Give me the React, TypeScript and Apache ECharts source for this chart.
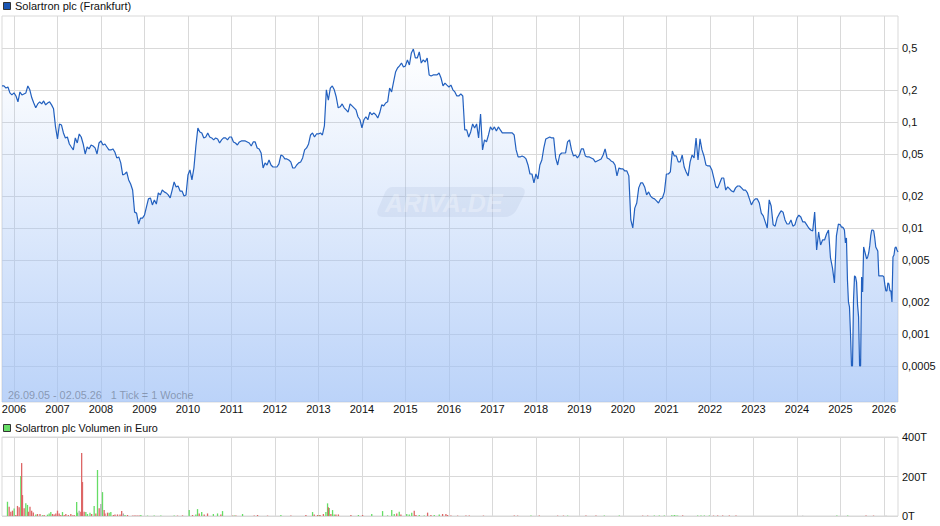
import { useEffect, useRef } from 'react'
import * as echarts from 'echarts'

// weekly closes, one list per calendar year
const p2005 = [0.219, 0.219, 0.209, 0.214, 0.188, 0.18]
const p2006 = [0.188, 0.176, 0.155, 0.192, 0.18, 0.184, 0.188, 0.219, 0.201, 0.169, 0.151, 0.136, 0.148, 0.155, 0.148, 0.158, 0.145, 0.151, 0.155, 0.145, 0.133, 0.09]
const p2007 = [0.0692, 0.0958, 0.0937, 0.0788, 0.0707, 0.0722, 0.062, 0.0581, 0.0545, 0.0707, 0.0634, 0.0771, 0.0722, 0.062, 0.0499, 0.0581, 0.0557, 0.0607, 0.0594, 0.0569, 0.0499, 0.0634]
const p2008 = [0.0662, 0.0607, 0.062, 0.0581, 0.0545, 0.0545, 0.0557, 0.0521, 0.0458, 0.0468, 0.0411, 0.0316, 0.0323, 0.0338, 0.0284, 0.026, 0.0228, 0.0141, 0.0138, 0.0109, 0.0124, 0.0124]
const p2009 = [0.0132, 0.0158, 0.0188, 0.0192, 0.0165, 0.0184, 0.0168, 0.0214, 0.0205, 0.0228, 0.0219, 0.0214, 0.0205, 0.0192, 0.0228, 0.0272, 0.0244, 0.0249, 0.0223, 0.0223, 0.02, 0.0205]
const p2010 = [0.0316, 0.0353, 0.0284, 0.0368, 0.0594, 0.0878, 0.0805, 0.0788, 0.0707, 0.0722, 0.0788, 0.0722, 0.0707, 0.0677, 0.0707, 0.0692, 0.0634, 0.0677, 0.0707, 0.0707, 0.0677, 0.0722]
const p2011 = [0.0722, 0.0648, 0.0634, 0.0607, 0.0648, 0.0662, 0.0662, 0.0662, 0.0648, 0.0634, 0.0594, 0.0648, 0.0648, 0.0569, 0.0557, 0.051, 0.0368, 0.0411, 0.0393, 0.0438, 0.0393, 0.0376]
const p2012 = [0.0376, 0.0376, 0.0402, 0.0488, 0.0478, 0.0448, 0.0448, 0.0438, 0.042, 0.0368, 0.0368, 0.0393, 0.0411, 0.042, 0.0458, 0.0545, 0.0569, 0.062, 0.0754, 0.0788, 0.0722, 0.0771]
const p2013 = [0.0771, 0.0788, 0.0754, 0.0917, 0.201, 0.161, 0.209, 0.219, 0.201, 0.172, 0.136, 0.139, 0.148, 0.136, 0.13, 0.124, 0.148, 0.142, 0.136, 0.13, 0.112, 0.105]
const p2014 = [0.0878, 0.105, 0.112, 0.105, 0.124, 0.117, 0.122, 0.117, 0.109, 0.122, 0.145, 0.142, 0.151, 0.155, 0.209, 0.192, 0.239, 0.296, 0.323, 0.338, 0.36, 0.33]
const p2015 = [0.338, 0.385, 0.345, 0.448, 0.488, 0.402, 0.402, 0.458, 0.36, 0.385, 0.368, 0.402, 0.278, 0.272, 0.278, 0.278, 0.278, 0.29, 0.26, 0.219, 0.233, 0.223]
const p2016 = [0.214, 0.223, 0.201, 0.192, 0.176, 0.176, 0.184, 0.176, 0.0841, 0.0841, 0.0722, 0.0805, 0.0958, 0.0878, 0.0958, 0.0707, 0.119, 0.0545, 0.0677, 0.0648, 0.0754, 0.0898]
const p2017 = [0.0841, 0.0898, 0.0823, 0.0898, 0.0841, 0.0788, 0.0788, 0.0788, 0.0788, 0.0788, 0.0788, 0.0754, 0.0545, 0.0468, 0.0468, 0.0478, 0.0468, 0.0448, 0.0393, 0.0323, 0.0323, 0.0266]
const p2018 = [0.0323, 0.029, 0.0393, 0.0438, 0.0569, 0.0692, 0.0707, 0.0722, 0.0707, 0.0707, 0.0458, 0.0393, 0.0488, 0.051, 0.051, 0.051, 0.0648, 0.0677, 0.0545, 0.0478, 0.0488, 0.0458]
const p2019 = [0.0488, 0.0557, 0.0557, 0.0478, 0.0468, 0.0468, 0.0458, 0.0448, 0.042, 0.0429, 0.0438, 0.0448, 0.0488, 0.0557, 0.0458, 0.0448, 0.0429, 0.042, 0.0393, 0.031, 0.0368, 0.0361]
const p2020 = [0.0361, 0.0345, 0.0345, 0.031, 0.0119, 0.01, 0.0154, 0.0172, 0.0239, 0.0266, 0.0266, 0.0244, 0.0205, 0.0219, 0.02, 0.0192, 0.0188, 0.018, 0.0172, 0.0188, 0.0192, 0.0219]
const p2021 = [0.0323, 0.0323, 0.0338, 0.0533, 0.0478, 0.0478, 0.042, 0.042, 0.0488, 0.0376, 0.0338, 0.031, 0.042, 0.0488, 0.0458, 0.0707, 0.0438, 0.0692, 0.0545, 0.0478, 0.0393, 0.0385]
const p2022 = [0.0385, 0.0353, 0.0296, 0.0244, 0.0239, 0.0266, 0.0296, 0.0296, 0.0228, 0.0244, 0.0234, 0.0223, 0.0219, 0.0239, 0.0249, 0.0249, 0.0239, 0.0228, 0.0228, 0.0214, 0.0188, 0.0165]
const p2023 = [0.018, 0.0188, 0.0188, 0.0172, 0.0138, 0.013, 0.0114, 0.01, 0.0184, 0.0161, 0.0107, 0.0104, 0.0124, 0.0135, 0.0145, 0.0141, 0.0119, 0.0109, 0.0109, 0.0119, 0.0104, 0.0107]
const p2024 = [0.0124, 0.0132, 0.0127, 0.0114, 0.0114, 0.0107, 0.01, 0.00957, 0.00937, 0.0141, 0.0062, 0.00917, 0.00691, 0.00771, 0.00771, 0.00878, 0.00957, 0.00521, 0.0042, 0.00303, 0.00841, 0.0109]
const p2025 = [0.0107, 0.0102, 0.0102, 0.01, 0.00957, 0.00722, 0.00805, 0.00323, 0.002, 0.0018, 0.00102, 0.0005, 0.0005, 0.00209, 0.00353, 0.00345, 0.00309, 0.00188, 0.00145, 0.0005, 0.0005, 0.00345, 0.00249, 0.00662, 0.00607, 0.00556, 0.0051, 0.00533, 0.00581, 0.00677, 0.00841, 0.00957, 0.00957, 0.00937, 0.00805, 0.00662, 0.00634, 0.00607, 0.00353, 0.00353, 0.00353, 0.00353, 0.00353]
const p2026 = [0.00345, 0.0029, 0.00255, 0.00255, 0.00303, 0.00296, 0.00255, 0.00255, 0.002, 0.00533, 0.00556, 0.00648, 0.00662, 0.0062, 0.00594]

// volume in thousand euro: [week number since 26.09.05, volume]
const volumeUp = [[6, 72], [14, 38], [22, 202], [28, 64], [30, 56], [40, 8], [48, 4], [54, 7], [56, 13], [58, 20], [72, 20], [89, 71], [90, 17], [100, 20], [102, 10], [105, 17], [110, 51], [114, 233], [120, 121], [128, 17], [130, 20], [147, 5], [166, 5], [174, 2], [182, 2], [190, 3], [206, 2], [224, 30], [232, 8], [234, 35], [239, 20], [253, 10], [258, 13], [264, 25], [278, 2], [288, 10], [334, 5], [372, 20], [380, 5], [388, 20], [390, 64], [392, 41], [396, 30], [398, 8], [427, 5], [443, 10], [456, 25], [462, 3], [467, 30], [470, 10], [476, 22], [485, 10], [488, 8], [491, 17], [500, 5], [506, 3], [518, 5], [524, 7], [634, 2], [678, 2], [722, 2], [740, 2], [782, 2], [788, 2], [794, 2], [803, 4], [806, 5], [808, 3], [810, 2], [834, 3], [838, 2], [842, 2], [848, 2], [1001, 3], [1014, 2]]
const volumeDown = [[8, 47], [10, 22], [12, 27], [16, 5], [18, 51], [20, 44], [23, 268], [24, 106], [26, 39], [31, 22], [33, 47], [35, 27], [37, 18], [42, 10], [45, 10], [50, 5], [60, 10], [62, 8], [64, 13], [66, 27], [68, 13], [70, 5], [74, 5], [76, 10], [79, 5], [82, 10], [84, 3], [86, 5], [94, 22], [95, 319], [96, 172], [98, 22], [107, 10], [112, 13], [116, 39], [122, 30], [123, 13], [126, 17], [133, 5], [135, 7], [138, 8], [141, 8], [143, 25], [150, 5], [156, 2], [158, 2], [160, 2], [162, 2], [164, 2], [210, 2], [216, 3], [228, 5], [236, 13], [242, 7], [246, 13], [262, 8], [276, 2], [280, 2], [302, 3], [306, 5], [318, 2], [346, 2], [364, 5], [374, 8], [378, 5], [381, 5], [385, 10], [391, 44], [394, 10], [400, 8], [403, 8], [418, 5], [432, 5], [473, 13], [478, 8], [494, 27], [496, 5], [510, 17], [514, 5], [528, 10], [532, 10], [534, 5], [538, 2], [546, 2], [556, 2], [560, 2], [577, 2], [614, 2], [618, 2], [644, 2], [666, 2], [673, 2], [700, 2], [712, 2], [768, 2], [774, 2], [816, 3], [853, 2], [858, 2], [864, 2], [872, 2], [880, 2], [1036, 2], [1045, 2]]
const volumeFlat = [[92, 27], [118, 61], [145, 13], [960, 1], [1060, 1]]

const yearTicks = [2006, 2007, 2008, 2009, 2010, 2011, 2012, 2013, 2014, 2015, 2016, 2017, 2018, 2019, 2020, 2021, 2022, 2023, 2024, 2025, 2026]
const priceTicks = [0.0005, 0.001, 0.002, 0.005, 0.01, 0.02, 0.05, 0.1, 0.2, 0.5]
const volumeTicks = [0, 200, 400]

const FONT = '"Liberation Sans", Arial, sans-serif'
const GRID_LINE = '#d9d9d9'

// start of the pane in decimal years, and the calendar date of week 0
const X_MIN = 2005.724
const X_MAX = 2026.325
const WEEK0 = 2005.735

const yearBlock = (start: number, values: number[], perYear = 22) =>
  values.map((v, i) => [start + i / perYear, v])

const priceData = [
  ...yearBlock(X_MIN, p2005),
  ...yearBlock(2006, p2006),
  ...yearBlock(2007, p2007),
  ...yearBlock(2008, p2008),
  ...yearBlock(2009, p2009),
  ...yearBlock(2010, p2010),
  ...yearBlock(2011, p2011),
  ...yearBlock(2012, p2012),
  ...yearBlock(2013, p2013),
  ...yearBlock(2014, p2014),
  ...yearBlock(2015, p2015),
  ...yearBlock(2016, p2016),
  ...yearBlock(2017, p2017),
  ...yearBlock(2018, p2018),
  ...yearBlock(2019, p2019),
  ...yearBlock(2020, p2020),
  ...yearBlock(2021, p2021),
  ...yearBlock(2022, p2022),
  ...yearBlock(2023, p2023),
  ...yearBlock(2024, p2024),
  ...yearBlock(2025, p2025, 43),
  ...yearBlock(2026, p2026, 43),
]

const toBars = (rows: number[][]) => rows.map(([w, v]) => [WEEK0 + (w * 7) / 365.25, v])

function volumeSeries(rows: number[][], color: string) {
  return {
    type: 'bar',
    xAxisIndex: 1,
    yAxisIndex: 1,
    barWidth: 1.3,
    barGap: '-100%',
    itemStyle: { color },
    data: toBars(rows),
  }
}

function legendMark(y: number, color: string, label: string, size: number) {
  return [
    { type: 'rect', shape: { x: 3.5, y: y - 3.5, width: 7, height: 7 }, style: { fill: color, stroke: '#333', lineWidth: 1 }, z: 10 },
    { type: 'text', x: 15, y, style: { text: label, font: `${size}px ${FONT}`, fill: '#111', textVerticalAlign: 'middle' }, z: 10 },
  ]
}

echarts.graphic.registerShape(
  'arivaBadge',
  echarts.graphic.extendPath('M392 187 L518 187 Q527 187 524 195 L517 209 Q513 217 504 217 L384 217 Q375 217 378 209 L384 195 Q387 187 392 187 Z', {}),
)

const paneBase = {
  left: 2,
  width: 896,
  show: true,
  borderColor: GRID_LINE,
  borderWidth: 1,
  backgroundColor: 'transparent',
  outerBoundsMode: 'none',
}

export default function App() {
  const ref = useRef<HTMLDivElement>(null)

  useEffect(() => {
    if (!ref.current) return

    const chart = echarts.init(ref.current, undefined, { renderer: 'svg' })
    chart.setOption({
      animation: false,
      textStyle: { fontFamily: FONT },
      grid: [
        { ...paneBase, top: 16, height: 386 },
        { ...paneBase, top: 437, height: 79 },
      ],
      xAxis: [0, 1].map((i) => ({
        type: 'value',
        gridIndex: i,
        min: X_MIN,
        max: X_MAX,
        axisLine: { show: false },
        axisTick: { show: false, customValues: yearTicks },
        axisLabel: {
          show: i === 0,
          customValues: yearTicks,
          formatter: (v: number) => String(v),
          color: '#111',
          fontSize: 11,
          fontFamily: FONT,
          margin: 1,
        },
        splitLine: { show: true, lineStyle: { color: GRID_LINE, width: 1 } },
      })),
      yAxis: [
        {
          type: 'log',
          logBase: 10,
          gridIndex: 0,
          position: 'right',
          min: 0.000228,
          max: 1,
          axisLine: { show: false },
          axisTick: { show: false, customValues: priceTicks },
          axisLabel: {
            customValues: priceTicks,
            formatter: (v: number) => String(v).replace('.', ','),
            color: '#111',
            fontSize: 11,
            fontFamily: FONT,
            margin: 4,
          },
          splitLine: { show: true, lineStyle: { color: GRID_LINE, width: 1 } },
        },
        {
          type: 'value',
          gridIndex: 1,
          position: 'right',
          min: 0,
          max: 400,
          axisLine: { show: false },
          axisTick: { show: false, customValues: volumeTicks },
          axisLabel: {
            customValues: volumeTicks,
            formatter: (v: number) => `${v}T`,
            color: '#111',
            fontSize: 11,
            fontFamily: FONT,
            margin: 4,
          },
          splitLine: { show: true, lineStyle: { color: GRID_LINE, width: 1 } },
        },
      ],
      series: [
        {
          type: 'line',
          data: priceData,
          symbol: 'none',
          lineStyle: { color: '#2260bf', width: 1.2 },
          areaStyle: {
            origin: 'start',
            opacity: 1,
            color: new echarts.graphic.LinearGradient(0, 0, 0, 1, [
              { offset: 0, color: 'rgba(158,192,246,0)' },
              { offset: 1, color: 'rgba(158,192,246,0.7)' },
            ]),
          },
        },
        volumeSeries(volumeUp, '#66dd66'),
        volumeSeries(volumeDown, '#dd6666'),
        volumeSeries(volumeFlat, '#aaaaaa'),
      ],
      graphic: [
        ...legendMark(6, '#1a56b5', 'Solartron plc (Frankfurt)', 11),
        ...legendMark(428, '#66dd66', 'Solartron plc Volumen in Euro', 10.8),
        { type: 'arivaBadge', style: { fill: 'rgba(150,170,205,0.16)' }, z: 5 },
        {
          type: 'text',
          x: 385,
          y: 203,
          style: { text: 'ARIVA.DE', font: `italic bold 25px ${FONT}`, fill: 'rgba(255,255,255,0.3)', textVerticalAlign: 'middle' },
          z: 6,
        },
        {
          type: 'text',
          x: 8,
          y: 395,
          style: { text: '26.09.05 - 02.05.26   1 Tick = 1 Woche', font: `10.8px ${FONT}`, fill: 'rgba(90,100,120,0.55)', textVerticalAlign: 'middle' },
          z: 10,
        },
      ],
    })

    return () => chart.dispose()
  }, [])

  return <div ref={ref} style={{ position: 'absolute', left: 0, top: 0, width: 940, height: 526 }} />
}
